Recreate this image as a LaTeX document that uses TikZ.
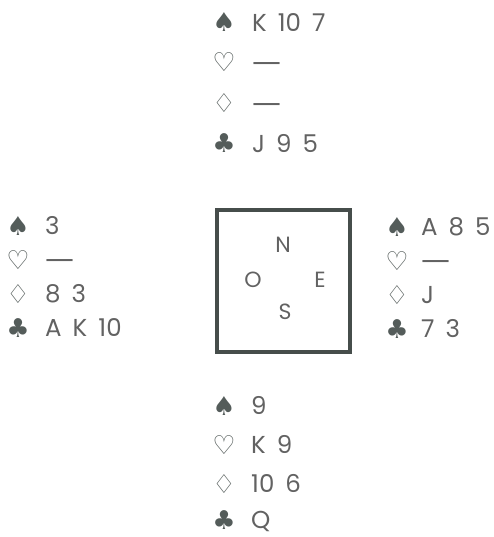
\documentclass[tikz,border=0pt]{standalone}
\usepackage{fontspec}
\setmainfont{Poppins}
\newfontfamily\suitfont{DejaVu Sans}
\definecolor{cardgray}{RGB}{98,98,98}
\definecolor{suitgray}{RGB}{84,92,90}
\definecolor{framegray}{RGB}{70,77,75}
\newcommand{\gap}{\hspace{0.45em}}
\newcommand{\nocard}{{\suitfont\fontsize{29}{29}\selectfont —}}

\begin{document}
\begin{tikzpicture}[x=1pt, y=-1pt,
    suit/.style={font=\suitfont\fontsize{26}{26}\selectfont, text=suitgray,
      inner sep=0pt, text height=18pt, text depth=0pt},
    card/.style={anchor=west, font=\fontsize{24.5}{24.5}\selectfont, text=cardgray,
      inner sep=0pt, text height=17pt, text depth=0pt},
    seat/.style={font=\fontsize{22}{22}\selectfont, text=cardgray,
      inner sep=0pt, text height=15pt, text depth=0pt}]
    \useasboundingbox (0,0) rectangle (494,537);

    % North
    \node[suit] (nS) at (224,23) {♠};  \node[card] (nSc) at (252,23) {K\gap 10\gap 7};
    \node[suit] (nH) at (224,63) {♡};  \node[card] (nHc) at (252,63) {\nocard};
    \node[suit] (nD) at (224,104) {♢}; \node[card] (nDc) at (252,104) {\nocard};
    \node[suit] (nC) at (224,144) {♣}; \node[card] (nCc) at (252,144) {J\gap 9\gap 5};

    % West
    \node[suit] (wS) at (18,226) {♠};  \node[card] (wSc) at (45,226) {3};
    \node[suit] (wH) at (18,260) {♡};  \node[card] (wHc) at (45,260) {\nocard};
    \node[suit] (wD) at (18,294) {♢};  \node[card] (wDc) at (45,294) {8\gap 3};
    \node[suit] (wC) at (18,328) {♣};  \node[card] (wCc) at (45,328) {A\gap K\gap 10};

    % East
    \node[suit] (eS) at (397,227) {♠}; \node[card] (eSc) at (421,227) {A\gap 8\gap 5};
    \node[suit] (eH) at (397,261) {♡}; \node[card] (eHc) at (421,261) {\nocard};
    \node[suit] (eD) at (397,295) {♢}; \node[card] (eDc) at (421,295) {J};
    \node[suit] (eC) at (397,329) {♣}; \node[card] (eCc) at (421,329) {7\gap 3};

    % South
    \node[suit] (sS) at (224,406) {♠}; \node[card] (sSc) at (251,406) {9};
    \node[suit] (sH) at (224,445) {♡}; \node[card] (sHc) at (251,445) {K\gap 9};
    \node[suit] (sD) at (224,484) {♢}; \node[card] (sDc) at (251,484) {10\gap 6};
    \node[suit] (sC) at (224,520) {♣}; \node[card] (sCc) at (251,520) {Q};

    % table
    \draw[framegray, line width=4pt] (217,210) rectangle (350,352);
    \node[seat] (tN) at (283,245) {N};
    \node[seat] (tO) at (253,280) {O};
    \node[seat] (tE) at (320,280) {E};
    \node[seat] (tS) at (285,312) {S};
\end{tikzpicture}
\end{document}
